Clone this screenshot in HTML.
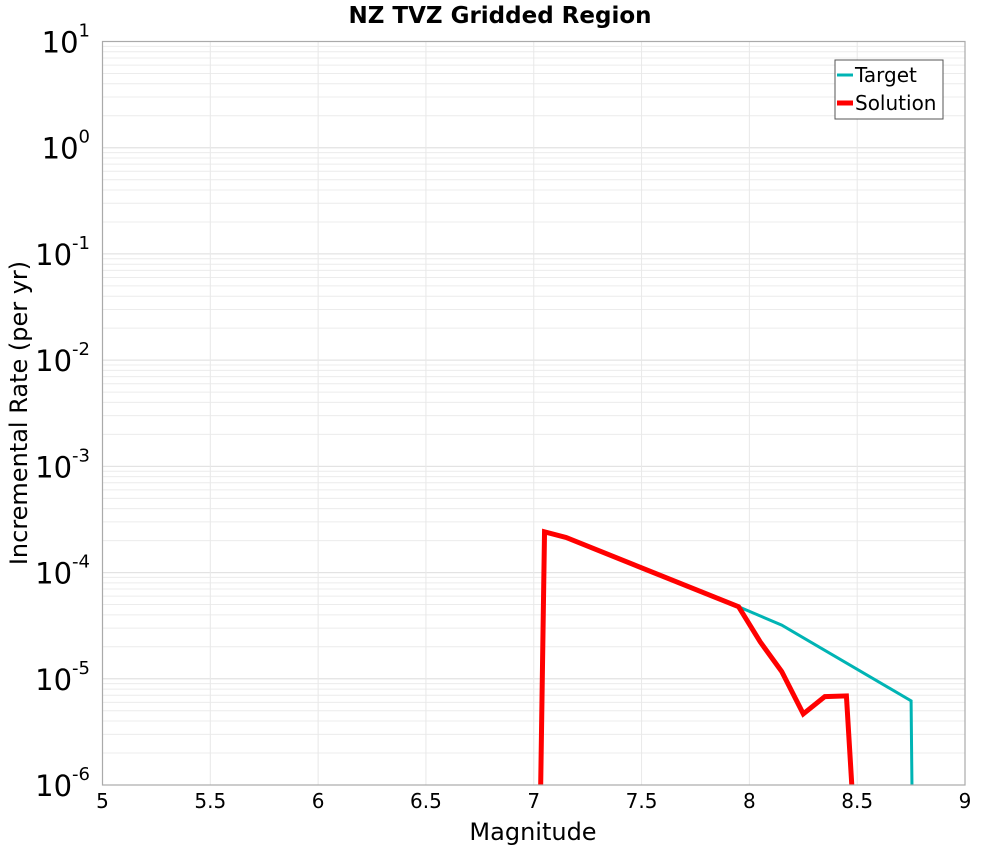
<!DOCTYPE html>
<html><head><meta charset="utf-8"><style>
html,body{margin:0;padding:0;background:#fff;width:1000px;height:850px;overflow:hidden;}
svg{display:block;}
svg text{font-family:"DejaVu Sans","Liberation Sans",sans-serif;}
</style></head><body>
<svg id="chart" width="1000" height="850" xmlns="http://www.w3.org/2000/svg">
<text x="500" y="23" text-anchor="middle" font-size="23" font-weight="bold">NZ TVZ Gridded Region</text>
<g id="grid"></g>
<g id="series"></g>
<rect x="102.5" y="41.5" width="862.5" height="743.5" fill="none" stroke="#aaa" stroke-width="1.2"/>
<g id="xticks"></g>
<g id="yticks"></g>
<text x="533" y="840" text-anchor="middle" font-size="24">Magnitude</text>
<text transform="translate(27,413) rotate(-90)" text-anchor="middle" font-size="24">Incremental Rate (per yr)</text>
<g>
<rect x="835" y="60" width="108" height="59" fill="#fff" stroke="#555" stroke-width="1"/>
<line x1="837" y1="75" x2="853" y2="75" stroke="#00b4b4" stroke-width="3"/>
<text x="855" y="82" font-size="20">Target</text>
<line x1="837" y1="103" x2="853" y2="103" stroke="#f00" stroke-width="5"/>
<text x="855" y="110" font-size="20">Solution</text>
</g>
</svg>
<script>
const xTicks=[5,5.5,6,6.5,7,7.5,8,8.5,9];
const yExps=[1,0,-1,-2,-3,-4,-5,-6];
const targetMag=[6.95,7.05,7.15,7.95,8.15,8.75,8.85];
const targetRate=[1e-17,2.42e-4,2.14e-4,4.77e-5,3.2e-5,6.2e-6,1e-25];
const solutionMag=[6.95,7.05,7.15,7.95,8.05,8.15,8.25,8.35,8.45,8.55];
const solutionRate=[1e-17,2.42e-4,2.14e-4,4.77e-5,2.23e-5,1.17e-5,4.67e-6,6.8e-6,6.9e-6,3e-9];
const X0=102.5,X1=965,Y0=41.5,Y1=785;
const xs=m=>X0+(m-5)/4*(X1-X0);
const ys=v=>Y0+(1-Math.log10(v))/7*(Y1-Y0);
const NS="http://www.w3.org/2000/svg";
function mk(t,a,p){const e=document.createElementNS(NS,t);for(const k in a)e.setAttribute(k,a[k]);p.appendChild(e);return e;}
const grid=document.getElementById('grid');
for(let e=-6;e<1;e++)for(let k=1;k<=10;k++){
 const y=ys(k*Math.pow(10,e));
 const l=mk('line',{x1:X0,x2:X1,y1:y,y2:y,stroke:k==1||k==10?'#e2e2e2':'#ececec','stroke-width':1},grid);
 
 
}
xTicks.forEach(m=>{
 const x=xs(m);
 const l=mk('line',{x1:x,x2:x,y1:Y0,y2:Y1,stroke:'#e8e8e8','stroke-width':1},grid);
 
 
 const t=mk('text',{x:x,y:808,'text-anchor':'middle','font-size':20},document.getElementById('xticks'));
 t.textContent=m;
 
 
});
yExps.forEach(e=>{
 const y=ys(Math.pow(10,e));
 const t=mk('text',{x:90,y:y+11,'text-anchor':'end','font-size':29},document.getElementById('yticks'));
 
 
 t.textContent='10';
 const s=mk('tspan',{dy:-16,'font-size':18},t);
 s.textContent=String(e);
});
const ser=document.getElementById('series');
const cp=mk('clipPath',{id:'clip'},ser);
mk('rect',{x:X0,y:Y0,width:X1-X0,height:Y1-Y0},cp);
function line(ms,vs,c,w,name){
 const d=ms.map((m,i)=>(i?'L':'M')+xs(m).toFixed(2)+','+ys(vs[i]).toFixed(2)).join('');
 const p=mk('path',{d:d,fill:'none',stroke:c,'stroke-width':w,'clip-path':'url(#clip)','stroke-linejoin':'miter'},ser);
 
 
}
line(targetMag,targetRate,'#00b4b4',3,'target-line');
line(solutionMag,solutionRate,'#f00',5,'solution-line');
</script>
</body></html>
